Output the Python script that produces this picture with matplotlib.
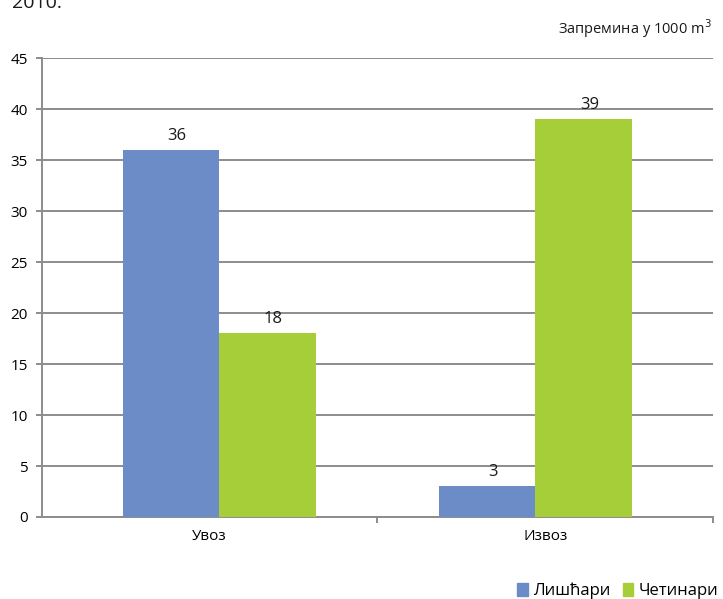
import matplotlib.pyplot as plt
from matplotlib.patches import Patch

plt.rcParams['font.family'] = ['Open Sans', 'DejaVu Sans']

# Подаци
kategorije = ["Увоз", "Извоз"]
serije = ["Лишћари", "Четинари"]
lisćari = [36, 3]
cetinari = [18, 39]
boje = ["#6b8cc7", "#a6ce39"]
y_ticks = list(range(0, 50, 5))

fig = plt.figure(figsize=(7.23, 5.99), dpi=100)
ax = fig.add_axes([0.0581, 0.1369, 0.928, 0.766])

sirina = 0.288
pomak = [0.029, -0.029]
for i, kat in enumerate(kategorije):
    c = i + 0.5 + pomak[i]
    for j, vrednosti in enumerate([lisćari, cetinari]):
        x = c + (j - 0.5) * sirina
        ax.bar(x, vrednosti[i], width=sirina, color=boje[j], zorder=3)
        ax.text(x + 0.017, vrednosti[i] + 0.6, str(vrednosti[i]), ha="center", va="bottom",
                fontsize=12, color="#1a1a1a")

ax.set_xlim(0, 2)
ax.set_ylim(0, 45)
ax.set_yticks(y_ticks)
ax.set_xticks([1, 2])
ax.set_xticklabels(["", ""])
ax.set_xticks([0.5, 1.5], minor=True)
ax.set_xticklabels(kategorije, minor=True, fontsize=11)
ax.tick_params(axis="x", which="minor", length=0, pad=9)
ax.tick_params(axis="x", which="major", length=4, color="#8c8c8c", width=1.4)
ax.tick_params(axis="y", length=4, color="#8c8c8c", width=1.4, labelsize=11, pad=6)
ax.yaxis.grid(True, color="#8c8c8c", linewidth=1.4, zorder=0)
ax.set_axisbelow(True)
for s in ["top", "right"]:
    ax.spines[s].set_visible(False)
for s in ["left", "bottom"]:
    ax.spines[s].set_color("#8c8c8c")
    ax.spines[s].set_linewidth(1.4)

fig.text(0.017, 0.995, "2010.", fontsize=14, ha="left", va="center", color="#1a1a1a")
fig.text(0.985, 0.952, "Запремина у 1000 m$^3$", fontsize=10.5, ha="right", va="center",
         color="#1a1a1a")

ruke = [Patch(color=boje[0], label=serije[0]), Patch(color=boje[1], label=serije[1])]
fig.legend(handles=ruke, loc="center right", bbox_to_anchor=(1.014, 0.0134), ncol=2,
           frameon=False, handlelength=0.65, handleheight=0.8, handletextpad=0.3,
           columnspacing=0.75, fontsize=12)

fig.savefig("out.png", dpi=100)
